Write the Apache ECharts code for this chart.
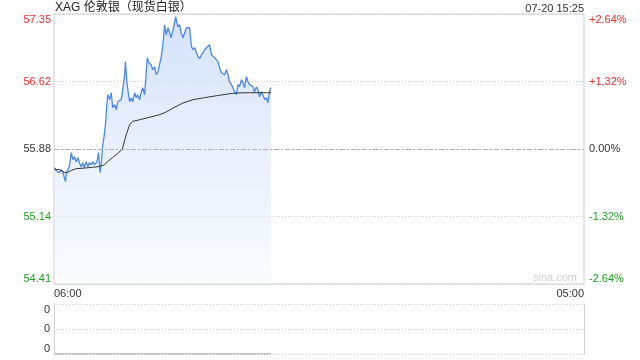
<!DOCTYPE html>
<html>
<head>
<meta charset="utf-8">
<script src="https://cdn.jsdelivr.net/npm/echarts@6/dist/echarts.min.js"></script>
<style>html,body{margin:0;padding:0;background:#fff}#c{width:640px;height:360px}</style>
</head>
<body>
<div id="c"></div>
<script>
var titleText = 'XAG 伦敦银（现货白银）';
var dateText = '07-20 15:25';
var prevClose = 55.88;
var sessionMinutes = 1380;
var timeLabels = ['06:00', '05:00'];
var priceLabels = ['54.41', '55.14', '55.88', '56.62', '57.35'];
var pctLabels = ['-2.64%', '-1.32%', '0.00%', '+1.32%', '+2.64%'];
var volLabels = ['0', '0', '0'];

var priceMinutes = [1,6,10,14,19,23,27,30,32,36,40,45,49,53,58,62,66,71,75,79,84,88,92,97,101,105,110,113,116,120,124,126,130,134,138,140,145,149,153,158,162,166,171,175,179,184,186,190,194,197,201,205,210,214,218,223,227,231,236,240,243,247,253,257,262,266,270,275,279,284,288,292,297,301,305,310,314,317,320,323,327,331,336,340,345,349,353,358,362,366,371,375,379,384,388,392,397,401,405,410,414,418,423,427,431,436,440,444,449,453,457,462,466,470,475,479,483,488,492,496,501,505,509,514,518,522,527,531,535,540,544,549,553,557,562,565];
var prices = [55.676,55.643,55.654,55.621,55.654,55.632,55.566,55.523,55.621,55.654,55.687,55.840,55.763,55.796,55.741,55.785,55.730,55.687,55.730,55.676,55.741,55.687,55.730,55.708,55.741,55.708,55.730,55.763,55.840,55.621,55.763,55.894,56.003,56.146,56.386,56.473,56.419,56.495,56.331,56.364,56.309,56.397,56.386,56.419,56.528,56.692,56.834,56.604,56.473,56.397,56.441,56.397,56.495,56.441,56.473,56.419,56.495,56.550,56.473,56.714,56.878,56.823,56.801,56.746,56.779,56.692,56.714,56.725,56.878,57.041,57.238,57.129,57.205,57.151,57.096,57.184,57.205,57.326,57.260,57.216,57.238,57.151,57.096,57.151,57.205,57.184,57.205,56.998,56.965,56.987,56.932,56.889,56.867,56.910,56.932,56.965,56.987,56.998,57.020,56.910,56.889,56.878,56.889,56.834,56.768,56.714,56.725,56.692,56.746,56.692,56.615,56.583,56.550,56.506,56.473,56.583,56.561,56.637,56.604,56.550,56.670,56.615,56.583,56.583,56.561,56.506,56.561,56.528,56.451,56.506,56.495,56.419,56.441,56.386,56.528,56.550];

var avgMinutes = [1,14,27,35,45,58,74,100,119,132,139,152,165,178,188,197,205,223,249,275,291,310,336,362,392,423,457,475,509,565];
var avgPrices = [55.659,55.654,55.624,55.624,55.646,55.665,55.670,55.679,55.690,55.708,55.741,55.785,55.829,55.880,56.036,56.146,56.182,56.200,56.227,56.255,56.282,56.328,56.383,56.419,56.441,56.462,56.484,56.492,56.495,56.495];

var volMinutes = [1, 565];
var volumes = [0, 0];

function toPct(p) { return (p / prevClose - 1) * 100; }
function pairs(ts, vs, f) { return ts.map(function (t, i) { return [t, f ? f(vs[i]) : vs[i]]; }); }
function labelColor(i) { return i > 2 ? '#f0302c' : (i < 2 ? '#22a022' : '#333'); }

var font = 'Arial, "Liberation Sans", "Noto Sans CJK SC", sans-serif';
var chart = echarts.init(document.getElementById('c'), null, {renderer: 'canvas'});
chart.setOption({
  animation: false,
  textStyle: {fontFamily: font},
  title: [
    {text: titleText, left: 55, top: 2, padding: 0, textStyle: {fontSize: 12, fontWeight: 'normal', color: '#222', fontFamily: font}},
    {text: dateText, right: 56, top: 3, padding: 0, textStyle: {fontSize: 11, fontWeight: 'normal', color: '#333', fontFamily: font}}
  ],
  graphic: [{
    type: 'text', right: 63, top: 272, silent: true,
    style: {text: 'sina.com', fill: '#d0d0d0', font: '11px ' + font}
  }],
  grid: [
    {left: 54, right: 56, top: 14, height: 270, show: true, borderColor: '#cfcfcf', borderWidth: 1, backgroundColor: 'transparent'},
    {left: 54, right: 56, top: 304, height: 50, show: false}
  ],
  xAxis: [
    {type: 'value', gridIndex: 0, min: 0, max: sessionMinutes, interval: sessionMinutes,
     axisLine: {show: false}, axisTick: {show: false}, splitLine: {show: false},
     axisLabel: {show: true, margin: 4, fontSize: 11, color: '#333', alignMinLabel: 'left', alignMaxLabel: 'right',
       formatter: function (v, i) { return v === 0 ? timeLabels[0] : timeLabels[1]; }}},
    {type: 'value', gridIndex: 1, min: 0, max: sessionMinutes, interval: sessionMinutes,
     axisLine: {show: false}, axisTick: {show: false}, splitLine: {show: false}, axisLabel: {show: false}}
  ],
  yAxis: [
    {type: 'value', gridIndex: 0, position: 'left', min: -2.64, max: 2.64, interval: 1.32,
     axisLine: {show: false}, axisTick: {show: false},
     splitLine: {show: true, lineStyle: {color: '#cccccc', type: [1, 2], width: 1}},
     axisLabel: {margin: 3, fontSize: 11, verticalAlignMinLabel: 'bottom', verticalAlignMaxLabel: 'top',
       formatter: function (v, i) { return priceLabels[i]; },
       color: function (v, i) { return labelColor(Math.round(v / 1.32) + 2); }}},
    {type: 'value', gridIndex: 0, position: 'right', min: -2.64, max: 2.64, interval: 1.32,
     axisLine: {show: false}, axisTick: {show: false}, splitLine: {show: false},
     axisLabel: {margin: 5, fontSize: 11, verticalAlignMinLabel: 'bottom', verticalAlignMaxLabel: 'top',
       formatter: function (v, i) { return pctLabels[i]; },
       color: function (v, i) { return labelColor(Math.round(v / 1.32) + 2); }}},
    {type: 'value', gridIndex: 1, position: 'left', min: 0, max: 1, interval: 0.5,
     axisLine: {show: true, lineStyle: {color: '#cfcfcf'}}, axisTick: {show: false},
     splitLine: {show: true, lineStyle: {color: '#cccccc', type: [1, 2], width: 1}},
     axisLabel: {margin: 4, fontSize: 11, color: '#333', verticalAlignMinLabel: 'bottom', verticalAlignMaxLabel: 'top',
       formatter: function (v, i) { return volLabels[i]; }}},
    {type: 'value', gridIndex: 1, position: 'right', min: 0, max: 1, interval: 0.5,
     axisLine: {show: true, lineStyle: {color: '#cfcfcf'}}, axisTick: {show: false},
     splitLine: {show: false}, axisLabel: {show: false}}
  ],
  series: [
    {type: 'line', xAxisIndex: 0, yAxisIndex: 0, data: pairs(priceMinutes, prices, toPct),
     showSymbol: false, lineStyle: {color: '#4a88ee', width: 1.3}, itemStyle: {color: '#4a88ee'},
     areaStyle: {origin: 'start', color: new echarts.graphic.LinearGradient(0, 0, 0, 1, [
       {offset: 0, color: 'rgba(186,209,247,0.9)'}, {offset: 1, color: 'rgba(240,245,254,0.6)'}])},
     markLine: {silent: true, symbol: 'none', label: {show: false},
       lineStyle: {color: '#b0b0b0', type: [5, 2, 2, 2], width: 1}, data: [{yAxis: 0}]}, z: 3},
    {type: 'line', xAxisIndex: 0, yAxisIndex: 0, data: pairs(avgMinutes, avgPrices, toPct),
     showSymbol: false, lineStyle: {color: '#333', width: 1}, z: 4},
    {type: 'line', xAxisIndex: 1, yAxisIndex: 2, data: pairs(volMinutes, volumes),
     showSymbol: false, lineStyle: {color: '#888', width: 1}, z: 4}
  ]
});
</script>
</body>
</html>
